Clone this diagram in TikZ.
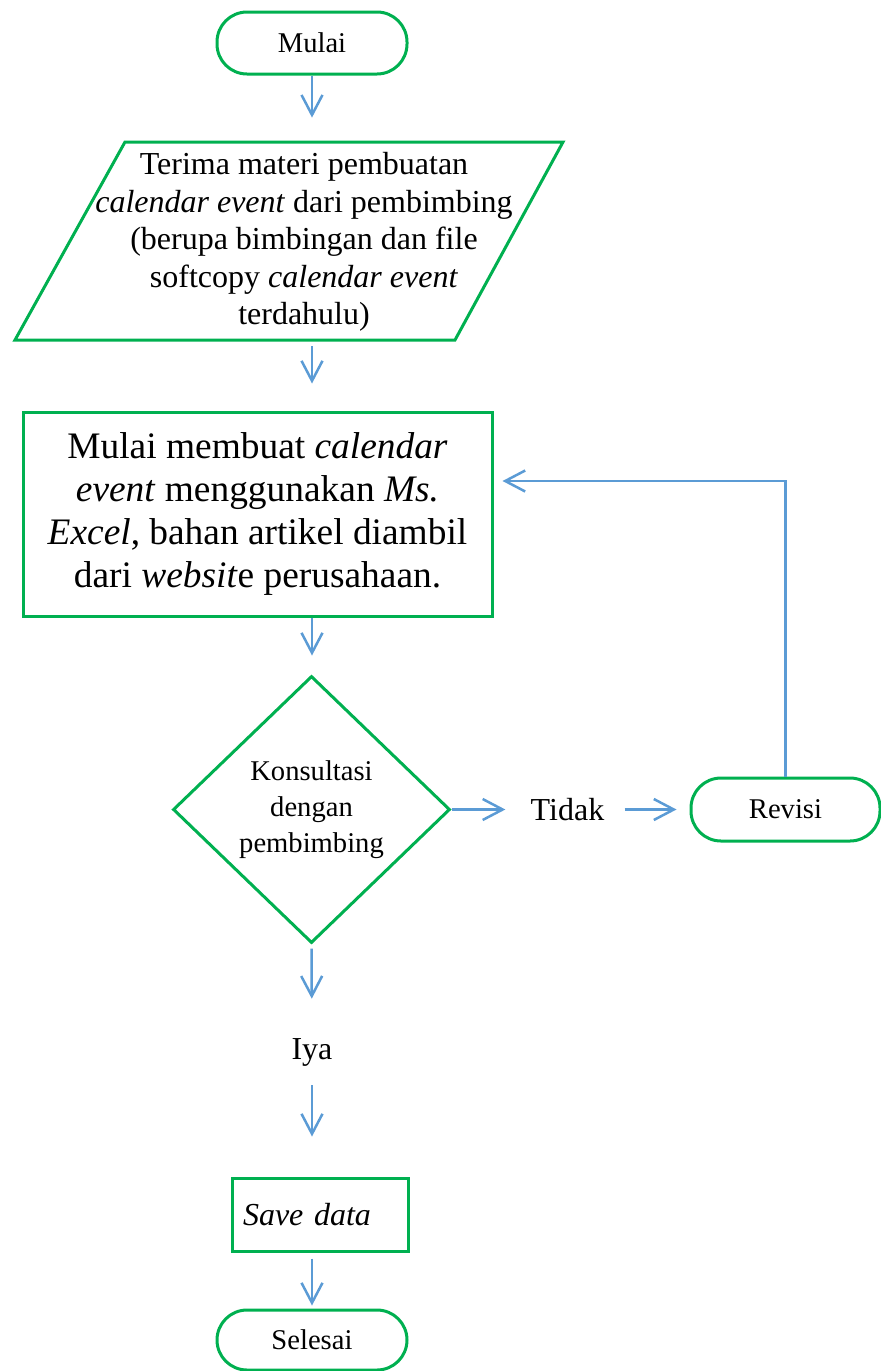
\documentclass[tikz,border=0pt]{standalone}
\usepackage{fontspec}
\setmainfont{Liberation Serif}
\usetikzlibrary{arrows.meta,shapes.geometric}
\definecolor{boxgreen}{HTML}{00B050}
\definecolor{arrowblue}{HTML}{5B9BD5}

\begin{document}
\begin{tikzpicture}[x=0.5pt,y=-0.5pt]
	\tikzstyle{every node}+=[inner sep=0pt]
	\tikzstyle{kotak}=[draw=boxgreen, line width=1.5pt]
	\tikzstyle{terminal}=[kotak, rounded corners=15pt, minimum width=95pt, minimum height=31pt, font=\fontsize{14.3}{17}\selectfont]
	\tikzstyle{panah}=[draw=arrowblue, line width=1.25pt, -{Straight Barb[length=10pt,width=10.5pt]}]
	\useasboundingbox (0,0) rectangle (881,1371);
	\node [terminal] (mulai) at (312,43) {Mulai};
	\node [minimum height=99pt, align=center, font=\fontsize{16}{18.8}\selectfont] (terima) at (304,242) {Terima materi pembuatan\\\textit{calendar event} dari pembimbing\\(berupa bimbingan dan file\\softcopy \textit{calendar event}\\terdahulu)};
	\draw [kotak] (125,142) -- (563,142) -- (455,340) -- (15,340) -- cycle;
	\node [kotak, minimum width=234.5pt, minimum height=102pt, align=center, font=\fontsize{18.7}{21.5}\selectfont] (buat) at (257.5,514) {Mulai membuat \textit{calendar}\\\textit{event} menggunakan \textit{Ms.}\\\textit{Excel}, bahan artikel diambil\\dari \textit{websit}e perusahaan.};
	\node [kotak, shape=diamond, minimum width=138.5pt, minimum height=133.5pt, align=center, font=\fontsize{14.3}{18}\selectfont] (cek) at (311.5,809.5) {Konsultasi\\dengan\\pembimbing};
	\node [font=\fontsize{16}{19}\selectfont] (tidak) at (567.5,809.5) {Tidak};
	\node [terminal, minimum width=94.5pt, minimum height=31.5pt] (revisi) at (785.5,809.5) {Revisi};
	\node [font=\fontsize{16}{19}\selectfont] (iya) at (312,1052) {Iya};
	\node [kotak, minimum width=88pt, minimum height=36.5pt, text width=77pt, align=left, font=\fontsize{16}{19}\selectfont] (simpan) at (320,1214.5) {\textit{Save data}};
	\node [terminal, minimum height=30pt] (selesai) at (312,1340) {Selesai};
	% alur utama
	\draw [panah, shorten >=12.5pt] (mulai.south) -- (mulai.south |- terima.north);
	\draw [panah, shorten <=2.5pt, shorten >=13.5pt] (mulai |- terima.south) -- (mulai |- buat.north);
	\draw [panah, shorten >=9.5pt] (mulai |- buat.south) -- (mulai |- cek.north);
	\draw [panah, shorten <=2pt, shorten >=19.5pt] (cek.south) -- (iya.north);
	\draw [panah, shorten <=9.5pt, shorten >=20pt] (iya.south) -- (iya.south |- simpan.north);
	\draw [panah, shorten <=3pt, shorten >=1.5pt] (iya |- simpan.south) -- (selesai.north);
	% alur revisi
	\draw [panah, shorten >=12.5pt] (cek.east) -- (tidak.west);
	\draw [panah, shorten <=10pt, shorten >=6.5pt] (tidak.east) -- (revisi.west);
	\draw [panah, shorten >=4.5pt] (revisi.north) |- ([yshift=16.5pt]buat.east);
\end{tikzpicture}
\end{document}
